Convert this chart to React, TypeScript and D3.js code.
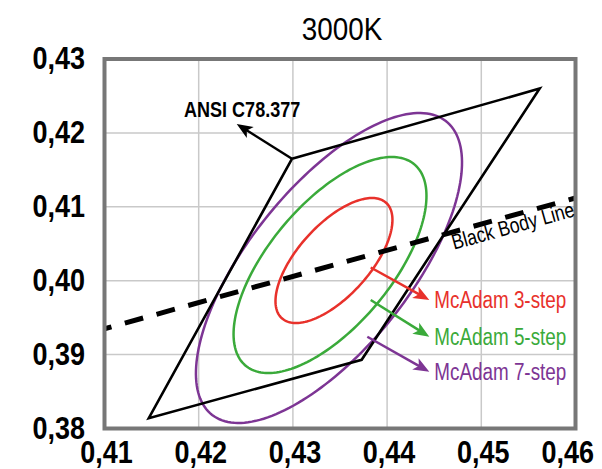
import React from "react";
import * as d3 from "d3";

const title = "3000K";
const xTicks = [0.41, 0.42, 0.43, 0.44, 0.45, 0.46];
const yTicks = [0.38, 0.39, 0.4, 0.41, 0.42, 0.43];

// ANSI C78.377 quadrangle (x, y)
const quadX = [0.4299, 0.4562, 0.4373, 0.4147];
const quadY = [0.4165, 0.426, 0.3893, 0.3814];

// Black body line endpoints
const bbX = [0.41, 0.46];
const bbY = [0.3935, 0.4112];

// MacAdam ellipses
const ellipseNames = ["McAdam 3-step", "McAdam 5-step", "McAdam 7-step"];
const ellipseColors = ["#e8312b", "#3aaa3a", "#7d3594"];
const ellipseCx = [0.43436, 0.43394, 0.43383];
const ellipseCy = [0.40273, 0.40212, 0.40172];
const ellipseA = [0.00964, 0.01641, 0.02354];
const ellipseB = [0.00414, 0.00701, 0.00922];
const ellipseTheta = [57.9, 59.8, 60.4];

// annotation arrows (data coords)
const arrowStartX = [0.43826, 0.43826, 0.4379];
const arrowStartY = [0.40179, 0.39739, 0.39242];
const arrowEndX = [0.44448, 0.44448, 0.44448];
const arrowEndY = [0.39739, 0.39242, 0.38767];

const ansiLabel = "ANSI C78.377";
const bbLabel = "Black Body Line";

const W = 602;
const H = 469;
const FONT = "'Liberation Sans', Arial, sans-serif";

const x = d3.scaleLinear().domain([0.41, 0.46]).range([104.5, 575.5]);
const y = d3.scaleLinear().domain([0.38, 0.43]).range([428.5, 59]);

const locale = d3.formatLocale({ decimal: ",", thousands: ".", grouping: [3], currency: ["", ""] });
const fmt = locale.format(".2f");

function ellipsePath(i: number) {
  const th = (ellipseTheta[i] * Math.PI) / 180;
  const pts: [number, number][] = d3.range(0, 361, 2).map((deg) => {
    const t = (deg * Math.PI) / 180;
    const dx = ellipseA[i] * Math.cos(t) * Math.cos(th) - ellipseB[i] * Math.sin(t) * Math.sin(th);
    const dy = ellipseA[i] * Math.cos(t) * Math.sin(th) + ellipseB[i] * Math.sin(t) * Math.cos(th);
    return [x(ellipseCx[i] + dx), y(ellipseCy[i] + dy)];
  });
  return d3.line().curve(d3.curveLinearClosed)(pts) as string;
}

function arrowHead(x1: number, y1: number, x2: number, y2: number, len = 16, half = 6.5) {
  const ang = Math.atan2(y2 - y1, x2 - x1);
  const bx = x2 - len * Math.cos(ang);
  const by = y2 - len * Math.sin(ang);
  const mx = x2 - len * 0.75 * Math.cos(ang);
  const my = y2 - len * 0.75 * Math.sin(ang);
  const px = -Math.sin(ang) * half;
  const py = Math.cos(ang) * half;
  return `M${x2},${y2}L${bx + px},${by + py}L${mx},${my}L${bx - px},${by - py}Z`;
}

function NText(props: { x: number; y: number; size: number; sx?: number; anchor?: string; weight?: string; fill?: string; rotate?: number; children: React.ReactNode }) {
  const { x: tx, y: ty, size, sx = 0.82, anchor = "start", weight = "normal", fill = "#000", rotate = 0 } = props;
  return (
    <text
      transform={`translate(${tx},${ty}) rotate(${rotate}) scale(${sx},1)`}
      fontSize={size}
      textAnchor={anchor}
      fontWeight={weight}
      fill={fill}
    >
      {props.children}
    </text>
  );
}

export default function App() {
  const quadPts: [number, number][] = quadX.map((d, i) => [x(d), y(quadY[i])]);
  const quadPath = d3.line().curve(d3.curveLinearClosed)(quadPts) as string;

  const bx1 = x(bbX[0]), by1 = y(bbY[0]), bx2 = x(bbX[1]), by2 = y(bbY[1]);
  const bbAngle = (Math.atan2(by2 - by1, bx2 - bx1) * 180) / Math.PI;
  const bbLabelX = 0.4466;
  const bbLabelY = bbY[0] + ((bbLabelX - bbX[0]) / (bbX[1] - bbX[0])) * (bbY[1] - bbY[0]);
  const bbRad = (bbAngle * Math.PI) / 180;
  const bbOff = 17.5;
  const bbTx = x(bbLabelX) - Math.sin(bbRad) * bbOff;
  const bbTy = y(bbLabelY) + Math.cos(bbRad) * bbOff;

  // ANSI arrow from the quad's top-left corner
  const ax1 = x(quadX[0]), ay1 = y(quadY[0]);
  const ax2 = 236.7, ay2 = 124;
  const aAng = Math.atan2(ay1 - ay2, ax1 - ax2);

  return (
    <svg width={W} height={H} style={{ position: "absolute", left: 0, top: 0 }} fontFamily={FONT}>
      <rect x={0} y={0} width={W} height={H} fill="#fff" />
      <defs>
        <clipPath id="plot">
          <rect x={x(0.41)} y={y(0.43)} width={x(0.46) - x(0.41)} height={y(0.38) - y(0.43)} />
        </clipPath>
      </defs>
      {/* grid */}
      {xTicks.slice(1, -1).map((t) => (
        <line key={"gx" + t} x1={x(t)} x2={x(t)} y1={y(0.43)} y2={y(0.38)} stroke="#c9c9c9" strokeWidth={1.5} />
      ))}
      {yTicks.slice(1, -1).map((t) => (
        <line key={"gy" + t} x1={x(0.41)} x2={x(0.46)} y1={y(t)} y2={y(t)} stroke="#c9c9c9" strokeWidth={1.5} />
      ))}
      <g clipPath="url(#plot)">
        {ellipseNames.map((n, i) => (
          <path key={n} d={ellipsePath(i)} fill="none" stroke={ellipseColors[i]} strokeWidth={2.5} />
        ))}
        <path d={quadPath} fill="none" stroke="#000" strokeWidth={2.6} strokeLinejoin="miter" />
        <line x1={bx1} y1={by1} x2={bx2} y2={by2} stroke="#000" strokeWidth={5} strokeDasharray="19 13.9" strokeDashoffset={11.8} />
      </g>
      {/* frame */}
      <rect x={x(0.41)} y={y(0.43)} width={x(0.46) - x(0.41)} height={y(0.38) - y(0.43)} fill="none" stroke="#777" strokeWidth={4} />

      {/* MacAdam annotations */}
      {ellipseNames.map((n, i) => {
        const x1 = x(arrowStartX[i]), y1 = y(arrowStartY[i]), x2 = x(arrowEndX[i]), y2 = y(arrowEndY[i]);
        const ang = Math.atan2(y2 - y1, x2 - x1);
        return (
          <g key={"ann" + n}>
            <line x1={x1} y1={y1} x2={x2 - 10 * Math.cos(ang)} y2={y2 - 10 * Math.sin(ang)} stroke={ellipseColors[i]} strokeWidth={2.5} />
            <path d={arrowHead(x1, y1, x2, y2)} fill={ellipseColors[i]} />
            <NText x={x2 + 5} y={y2 + 8} size={23} fill={ellipseColors[i]}>{n}</NText>
          </g>
        );
      })}

      {/* ANSI annotation */}
      <line x1={ax1} y1={ay1} x2={ax2 + 9 * Math.cos(aAng)} y2={ay2 + 9 * Math.sin(aAng)} stroke="#000" strokeWidth={2.5} />
      <path d={arrowHead(ax1, ay1, ax2, ay2)} fill="#000" />
      <NText x={184} y={116.7} size={22} weight="bold">{ansiLabel}</NText>

      {/* Black body label */}
      <NText x={bbTx} y={bbTy} size={21.5} rotate={bbAngle}>{bbLabel}</NText>

      {/* axis tick labels */}
      {yTicks.map((t) => (
        <NText key={"yl" + t} x={85} y={y(t) + 10} anchor="end" size={31} sx={0.87} weight="bold">{fmt(t)}</NText>
      ))}
      {xTicks.map((t, i) => (
        <NText key={"xl" + t} x={i === xTicks.length - 1 ? 594 : x(t) + 2} y={463} anchor={i === xTicks.length - 1 ? "end" : "middle"} size={31} sx={0.87} weight="bold">{fmt(t)}</NText>
      ))}
      <NText x={342} y={40} anchor="middle" size={32} sx={0.87}>{title}</NText>
    </svg>
  );
}
